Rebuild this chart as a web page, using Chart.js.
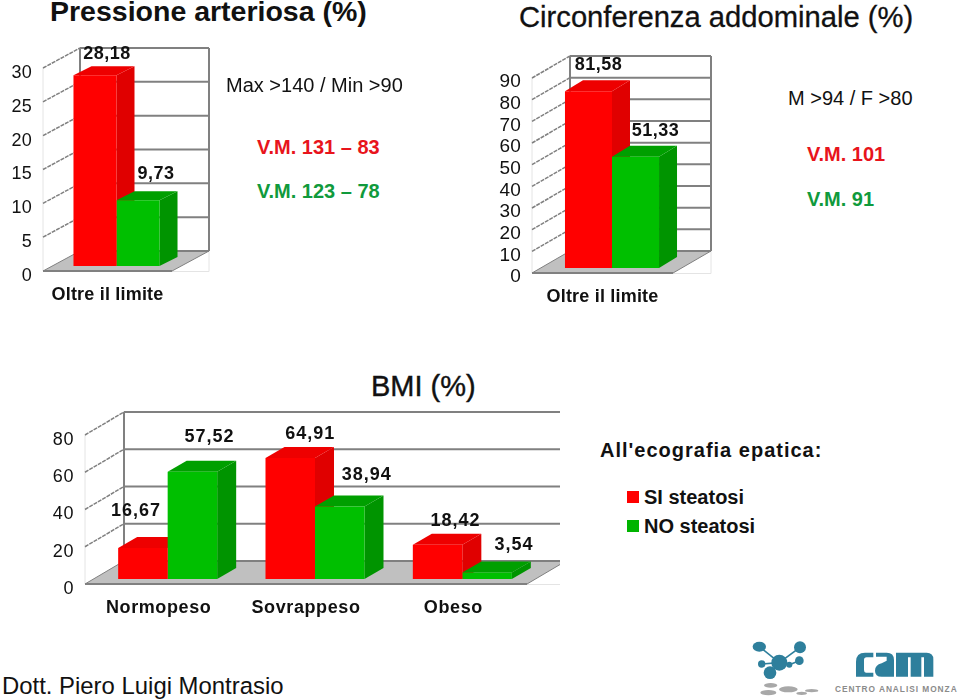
<!DOCTYPE html>
<html>
<head>
<meta charset="utf-8">
<script src="https://cdn.jsdelivr.net/npm/chart.js@4"></script>
<style>
  html, body { margin: 0; padding: 0; background: #fff; }
  body { position: relative; width: 960px; height: 699px; overflow: hidden; font-family: "Liberation Sans", Arial, sans-serif; color: #111; }
  canvas { position: absolute; }
  .t { position: absolute; white-space: nowrap; line-height: 1; transform-origin: left center; }
  .red { color: #e8141c; }
  .green { color: #109a3c; }
  .sq { position: absolute; width: 12px; height: 12px; }
  svg { position: absolute; }
</style>
</head>
<body>
<canvas id="pressione" width="240" height="280" style="left:0;top:30px"></canvas>
<canvas id="circonferenza" width="240" height="280" style="left:490px;top:40px"></canvas>
<canvas id="bmi" width="520" height="230" style="left:40px;top:410px"></canvas>

<div class="t" style="left:50px;top:-3px;font-size:28.5px;font-weight:bold">Pressione arteriosa (%)</div>
<div class="t" style="left:519px;top:3px;font-size:29.2px;-webkit-text-stroke:0.3px #111">Circonferenza addominale (%)</div>
<div class="t" style="left:371px;top:372px;font-size:29px;-webkit-text-stroke:0.4px #111">BMI (%)</div>

<div class="t" style="left:226px;top:75px;font-size:20px">Max &gt;140 / Min &gt;90</div>
<div class="t red" style="left:257px;top:137px;font-size:20px;font-weight:bold">V.M. 131 – 83</div>
<div class="t green" style="left:257px;top:181px;font-size:20px;font-weight:bold">V.M. 123 – 78</div>

<div class="t" style="left:788px;top:88px;font-size:20px">M &gt;94 / F &gt;80</div>
<div class="t red" style="left:807px;top:144px;font-size:20px;font-weight:bold">V.M. 101</div>
<div class="t green" style="left:807px;top:189px;font-size:20px;font-weight:bold">V.M. 91</div>

<div class="t" style="left:600px;top:440px;font-size:20px;font-weight:bold;letter-spacing:1px">All'ecografia epatica:</div>
<div class="sq" style="left:627px;top:491px;background:#ff0000"></div>
<div class="t" id="legendSi" style="left:644px;top:487px;font-size:20px;font-weight:bold"></div>
<div class="sq" style="left:627px;top:520px;background:#00b400"></div>
<div class="t" id="legendNo" style="left:644px;top:516px;font-size:20px;font-weight:bold"></div>

<div class="t" style="left:2px;top:674px;font-size:23.9px">Dott. Piero Luigi Montrasio</div>

<svg width="220" height="69" viewBox="0 0 660 207" style="left:740px;top:630px">
  <g stroke="#2e7f9c" stroke-width="5">
    <line x1="58" y1="50" x2="118" y2="98"/>
    <line x1="180" y1="52" x2="118" y2="98"/>
    <line x1="65" y1="102" x2="118" y2="98"/>
    <line x1="90" y1="128" x2="118" y2="98"/>
    <line x1="148" y1="104" x2="178" y2="92"/>
  </g>
  <g fill="#2e7f9c">
    <circle cx="118" cy="98" r="24"/>
    <ellipse cx="58" cy="50" rx="20" ry="15"/>
    <circle cx="180" cy="52" r="18"/>
    <circle cx="65" cy="102" r="11"/>
    <circle cx="178" cy="92" r="13"/>
    <circle cx="148" cy="104" r="9"/>
    <circle cx="90" cy="128" r="19"/>
    <path d="M400 68H375Q348 68 348 95V140H400V128H378Q372 128 372 120V90Q372 82 380 82H400Z"/>
    <path d="M408 68H440Q462 68 462 90V140H425Q405 140 405 122Q405 105 425 100L440 92V80H408Z"/>
    <path d="M468 68H560Q580 68 580 88V140H552V82H544V140H512V82H504V140H468Z"/>
  </g>
  <g fill="#a8a8a8">
    <ellipse cx="145" cy="178" rx="28" ry="9"/>
    <ellipse cx="92" cy="166" rx="20" ry="7"/>
    <ellipse cx="85" cy="188" rx="24" ry="8"/>
    <ellipse cx="215" cy="182" rx="20" ry="5"/>
    <ellipse cx="185" cy="190" rx="16" ry="5"/>
  </g>
  <text x="285" y="187" font-size="25" font-weight="bold" fill="#8b8b8b" font-family="Liberation Sans" textLength="365">CENTRO ANALISI MONZA</text>
</svg>

<script>
const pressioneLabels = ['Oltre il limite'];
const pressioneSi = [28.18];
const pressioneNo = [9.73];
const pressioneTicks = [0, 5, 10, 15, 20, 25, 30];

const circonferenzaLabels = ['Oltre il limite'];
const circonferenzaSi = [81.58];
const circonferenzaNo = [51.33];
const circonferenzaTicks = [0, 10, 20, 30, 40, 50, 60, 70, 80, 90];

const bmiLabels = ['Normopeso', 'Sovrappeso', 'Obeso'];
const bmiSi = [16.67, 64.91, 18.42];
const bmiNo = [57.52, 38.94, 3.54];
const bmiTicks = [0, 20, 40, 60, 80];

const seriesNames = ['SI steatosi', 'NO steatosi'];

document.getElementById('legendSi').textContent = seriesNames[0];
document.getElementById('legendNo').textContent = seriesNames[1];

Chart.defaults.font.family = '"Liberation Sans", Arial, sans-serif';
Chart.defaults.color = '#111';

const shades = [
  { front: '#ff0000', top: '#ee0000', side: '#e00000' },
  { front: '#00bf00', top: '#009f00', side: '#009400' }
];

function poly(ctx, pts, fill) {
  ctx.beginPath();
  pts.forEach((p, i) => (i ? ctx.lineTo(p[0], p[1]) : ctx.moveTo(p[0], p[1])));
  ctx.closePath();
  ctx.fillStyle = fill;
  ctx.fill();
}

// the fake 3D: walls and floor behind the bars, extruded bars, value labels on top
const box3d = {
  id: 'box3d',
  beforeDraw(chart, args, opts) {
    chart.ctx.letterSpacing = opts.spacing;
  },
  beforeDatasetsDraw(chart, args, opts) {
    const ctx = chart.ctx;
    const { left, right } = chart.chartArea;
    const y = chart.scales.y;
    const [dx, dy] = opts.wall;
    const floor = y.getPixelForValue(0);
    const top = y.getPixelForValue(y.max);

    // faint edge right of the floor
    ctx.strokeStyle = '#e4e4e4';
    ctx.lineWidth = 1;
    ctx.beginPath();
    ctx.moveTo(right, floor + 0.5);
    ctx.lineTo(right + dx, floor + 0.5);
    ctx.lineTo(right + dx, floor + dy);
    ctx.moveTo(left, floor);
    ctx.lineTo(left, top);
    ctx.stroke();

    poly(ctx, [[left, floor], [left + dx, floor + dy], [right + dx, floor + dy], [right, floor]], '#c0c0c0');

    ctx.strokeStyle = '#808080';
    ctx.lineWidth = 2;
    y.ticks.forEach(t => {
      const py = y.getPixelForValue(t.value);
      ctx.beginPath();
      ctx.moveTo(left + dx, py + dy);
      ctx.lineTo(right + dx, py + dy);
      ctx.stroke();
      if (t.value > 0) {
        ctx.lineWidth = 1.5;
        ctx.setLineDash([4, 1]);
        ctx.beginPath();
        ctx.moveTo(left, py);
        ctx.lineTo(left + dx, py + dy);
        ctx.stroke();
        ctx.setLineDash([]);
        ctx.lineWidth = 2;
      }
    });
    ctx.beginPath();
    ctx.moveTo(left + dx, floor + dy);
    ctx.lineTo(left + dx, top + dy);
    ctx.moveTo(right + dx, top + dy);
    ctx.lineTo(right + dx, floor + dy);
    ctx.stroke();
    ctx.lineWidth = 1;
    ctx.beginPath();
    ctx.moveTo(right + dx, floor + dy);
    ctx.lineTo(right, floor);
    ctx.stroke();
    ctx.lineWidth = 2;
    ctx.beginPath();
    ctx.moveTo(left, floor);
    ctx.lineTo(right, floor);
    ctx.stroke();
    ctx.lineWidth = 1;
    ctx.beginPath();
    ctx.moveTo(left, floor);
    ctx.lineTo(left + dx, floor + dy);
    ctx.stroke();

    // extrusions go down first, red then green, so green's top covers red's side
    const [sx, sy] = opts.shift;
    const [bx, by] = opts.depth;
    ctx.save();
    ctx.translate(sx, sy);
    chart.data.datasets.forEach((ds, i) => {
      chart.getDatasetMeta(i).data.forEach(el => {
        const p = el.getProps(['x', 'y', 'base', 'width'], true);
        const x1 = p.x - p.width / 2;
        const x2 = p.x + p.width / 2;
        poly(ctx, [[x2, p.y], [x2 + bx, p.y + by], [x2 + bx, p.base + by], [x2, p.base]], shades[i].side);
        poly(ctx, [[x1, p.y], [x1 + bx, p.y + by], [x2 + bx, p.y + by], [x2, p.y]], shades[i].top);
      });
    });
    ctx.restore();
  },
  beforeDatasetDraw(chart, args, opts) {
    chart.ctx.save();
    chart.ctx.translate(opts.shift[0], opts.shift[1]);
  },
  afterDatasetDraw(chart) {
    chart.ctx.restore();
  },
  afterDatasetsDraw(chart, args, opts) {
    const ctx = chart.ctx;
    const [sx, sy] = opts.shift;
    const by = opts.depth[1];
    ctx.save();
    ctx.letterSpacing = opts.labelSpacing;
    ctx.font = 'bold ' + opts.labelSize + 'px "Liberation Sans", Arial, sans-serif';
    ctx.fillStyle = '#111';
    ctx.textAlign = 'center';
    ctx.textBaseline = 'middle';
    chart.data.datasets.forEach((ds, i) => {
      chart.getDatasetMeta(i).data.forEach((el, j) => {
        const { x, y } = el.getProps(['x', 'y'], true);
        const off = opts.labelOffsets[i][j];
        ctx.fillText(ds.data[j].toFixed(2).replace('.', ','), x + sx + off[0], y + sy + by + off[1]);
      });
    });
    ctx.restore();
  }
};

function makeChart(id, labels, si, no, ticks, look) {
  return new Chart(document.getElementById(id), {
    type: 'bar',
    data: {
      labels: labels,
      datasets: [
        { label: seriesNames[0], data: si, backgroundColor: shades[0].front, clip: false },
        { label: seriesNames[1], data: no, backgroundColor: shades[1].front, clip: false }
      ]
    },
    plugins: [box3d],
    options: {
      responsive: false,
      animation: false,
      events: [],
      layout: { padding: look.padding },
      datasets: { bar: { categoryPercentage: look.groupWidth, barPercentage: 1, borderWidth: 0 } },
      plugins: {
        legend: { display: false },
        tooltip: { enabled: false },
        box3d: look.box
      },
      scales: {
        x: {
          grid: { display: false, drawTicks: false },
          border: { display: false },
          ticks: { padding: look.xPad, maxRotation: 0, font: { size: look.xSize, weight: 'bold' } },
          afterFit(s) { s.height = look.xHeight; }
        },
        y: {
          min: ticks[0],
          max: ticks[ticks.length - 1],
          grid: { display: false, drawTicks: false },
          border: { display: false },
          ticks: { padding: look.yPad, labelOffset: look.yOffset, autoSkip: false, font: { size: look.ySize } },
          afterBuildTicks(s) { s.ticks = ticks.map(v => ({ value: v })); },
          afterFit(s) { s.width = look.yWidth; }
        }
      }
    }
  });
}

makeChart('pressione', pressioneLabels, pressioneSi, pressioneNo, pressioneTicks, {
  padding: { left: 0, top: 38, right: 68, bottom: 0 },
  groupWidth: 0.667, xPad: 13, xSize: 18, xHeight: 39, yPad: 11, ySize: 18, yWidth: 43, yOffset: 5,
  box: {
    wall: [37, -20], shift: [9, -5], depth: [18, -9], labelSize: 18, labelSpacing: '0.5px', spacing: '0.2px',
    labelOffsets: [[[12, -12]], [[18, -17]]]
  }
});

makeChart('circonferenza', circonferenzaLabels, circonferenzaSi, circonferenzaNo, circonferenzaTicks, {
  padding: { left: 0, top: 38, right: 57, bottom: 0 },
  groupWidth: 0.667, xPad: 13, xSize: 18, xHeight: 47, yPad: 11, ySize: 19, yWidth: 42, yOffset: 4,
  box: {
    wall: [38, -22], shift: [9.5, -5], depth: [18, -11], labelSize: 18, labelSpacing: '0.5px', spacing: '0.2px',
    labelOffsets: [[[10, -15]], [[20, -15]]]
  }
});

makeChart('bmi', bmiLabels, bmiSi, bmiNo, bmiTicks, {
  padding: { left: 0, top: 25, right: 33, bottom: 0 },
  groupWidth: 0.672, xPad: 13, xSize: 18, xHeight: 56, yPad: 11, ySize: 18, yWidth: 45, yOffset: 5,
  box: {
    wall: [39, -23], shift: [9, -5], depth: [19, -11], labelSize: 18, labelSpacing: '1px', spacing: '0.6px',
    labelOffsets: [[[-7, -26], [20, -13], [18, -13]], [[17, -24], [27, -20], [27, -16]]]
  }
});
</script>
</body>
</html>
